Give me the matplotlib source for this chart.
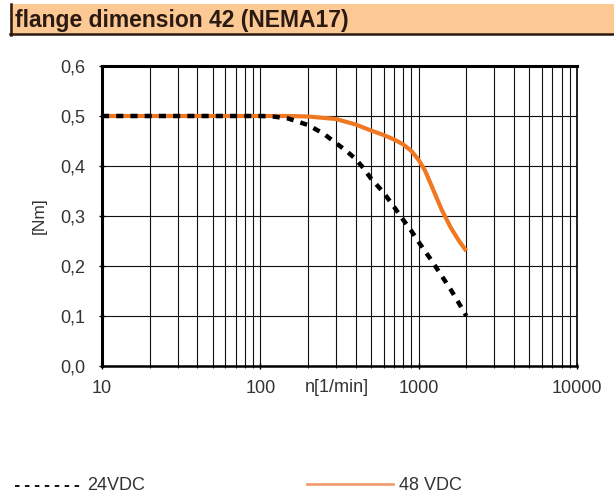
import numpy as np
import matplotlib.pyplot as plt
from matplotlib.ticker import FixedLocator, LogLocator, NullFormatter
from matplotlib.patches import Rectangle
from matplotlib.lines import Line2D

plt.rcParams['font.family'] = ['Liberation Sans', 'DejaVu Sans']

# Torque curves
n_24 = [10, 100, 120, 150, 200, 250, 300, 350, 400, 450, 500, 600, 700, 800, 900,
        1000, 1200, 1400, 1600, 1800, 2000]
t_24 = [0.50, 0.50, 0.499, 0.495, 0.482, 0.465, 0.446, 0.43, 0.414, 0.395, 0.375, 0.347,
        0.318, 0.292, 0.27, 0.248, 0.212, 0.18, 0.152, 0.125, 0.10]

n_48 = [10, 100, 150, 200, 300, 400, 500, 600, 700, 800, 900, 1000, 1100, 1200, 1300,
        1400, 1600, 1800, 2000]
t_48 = [0.50, 0.50, 0.50, 0.499, 0.494, 0.483, 0.471, 0.462, 0.453, 0.443, 0.43, 0.412,
        0.39, 0.362, 0.336, 0.312, 0.276, 0.25, 0.23]

y_ticks = [0.0, 0.1, 0.2, 0.3, 0.4, 0.5, 0.6]
x_ticks = [10, 100, 1000, 10000]

fig = plt.figure(figsize=(6.14, 4.97), dpi=100)
fig.patch.set_facecolor('white')

# title band
fig.patches.append(Rectangle((10 / 614, 1 - 35 / 497), 1, 31 / 497, transform=fig.transFigure,
                             facecolor='#fcc894', edgecolor='none', zorder=0))
fig.lines.append(Line2D([11 / 614, 11 / 614], [1 - 35 / 497, 1 - 4 / 497], transform=fig.transFigure,
                        color='#2a1a10', lw=1.8))
fig.lines.append(Line2D([10 / 614, 1], [1 - 34 / 497, 1 - 34 / 497], transform=fig.transFigure,
                        color='#2a1a10', lw=1.8))
fig.text(15 / 614, 1 - 20 / 497, 'flange dimension 42 (NEMA17)', fontsize=16.5, fontweight='bold',
         color='#2a1a12', va='center', ha='left')

ax = fig.add_axes([102 / 614, 1 - 366 / 497, 475 / 614, 300 / 497])
ax.set_xscale('log')
ax.set_xlim(10, 10000)
ax.set_ylim(0, 0.6)

ax.plot(n_48, t_48, color='#f07820', lw=3, solid_capstyle='butt', zorder=3)
ax.plot(n_24, t_24, color='black', lw=3.2, linestyle=(0, (1.6, 1.6)), zorder=4)

ax.xaxis.set_major_locator(FixedLocator(x_ticks))
ax.xaxis.set_minor_locator(LogLocator(base=10, subs=np.arange(2, 10)))
ax.xaxis.set_minor_formatter(NullFormatter())
ax.set_xticklabels([str(v) for v in x_ticks])
ax.set_yticks(y_ticks)
ax.set_yticklabels([f'{v:.1f}'.replace('.', ',') for v in y_ticks])

ax.grid(True, which='both', axis='x', color='#111111', lw=0.8)
ax.grid(True, which='major', axis='y', color='#111111', lw=0.8)

for s in ax.spines.values():
    s.set_linewidth(1.2)
ax.spines['left'].set_linewidth(2.2)
ax.spines['top'].set_linewidth(2.2)
ax.spines['bottom'].set_linewidth(1.8)

ax.tick_params(axis='both', which='major', labelsize=13, labelcolor='#333333', length=4,
               direction='inout', width=1)
ax.tick_params(axis='x', which='minor', length=3, direction='inout')
ax.tick_params(axis='x', pad=8)
ax.tick_params(axis='y', pad=10)

ax.set_ylabel('[Nm]', fontsize=12.5, color='#333333', labelpad=10)
ax.text(0.426, -0.072, 'n[1/min]', transform=ax.transAxes, fontsize=13, color='#333333',
        ha='left', va='center')

# legend at the bottom
fig.lines.append(Line2D([15 / 614, 84 / 614], [1 - 486 / 497] * 2, transform=fig.transFigure,
                        color='black', lw=1.3, linestyle=(0, (2.5, 3))))
fig.text(87 / 614, 1 - 486 / 497, '24VDC', fontsize=13, color='#333333', va='center')
fig.lines.append(Line2D([307 / 614, 393 / 614], [1 - 484 / 497] * 2, transform=fig.transFigure,
                        color='#f0a070', lw=2))
fig.text(399 / 614, 1 - 485 / 497, '48 VDC', fontsize=13, color='#333333', va='center')

fig.savefig('out.png', dpi=100)
